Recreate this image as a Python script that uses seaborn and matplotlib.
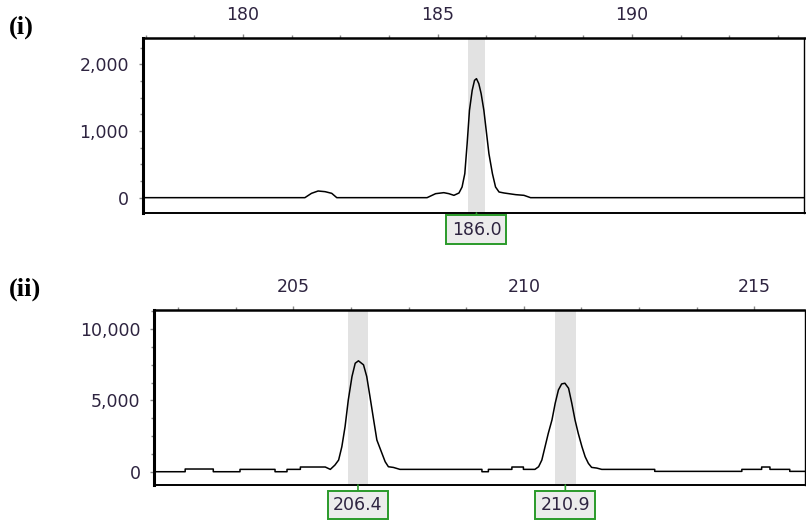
import numpy as np
import pandas as pd
import matplotlib
matplotlib.use("Agg")
import matplotlib.pyplot as plt
from matplotlib.ticker import MultipleLocator, FuncFormatter
import seaborn as sns

# ---------------- data ----------------
# Panel (i): trace (size in bp, signal in RFU)
trace1_size = [177.4, 181.59, 181.76, 181.93, 182.11, 182.28, 182.41,
               184.73, 184.95, 185.16, 185.29, 185.42, 185.55, 185.63, 185.70,
               185.76, 185.82, 185.89, 185.95, 186.00, 186.06, 186.12, 186.19,
               186.26, 186.32, 186.41, 186.49, 186.58, 186.71, 187.01, 187.22,
               187.39, 194.5]
trace1_rfu = [0, 0, 65, 100, 90, 65, 0,
              0, 60, 75, 60, 35, 70, 160, 360,
              810, 1310, 1610, 1760, 1785, 1710, 1560, 1310,
              960, 660, 360, 160, 85, 70, 45, 35,
              0, 0]
calls1 = [186.0]

# Panel (ii)
trace2_size = [201.9, 202.65, 202.65, 203.26, 203.26, 203.84, 203.84, 204.60,
               204.60, 204.86, 204.86, 205.15, 205.15, 205.69,
               205.80, 205.90, 205.98, 206.05, 206.12, 206.19, 206.27, 206.34,
               206.41, 206.52, 206.59, 206.66, 206.74, 206.81, 206.92, 206.99,
               207.06, 207.17, 207.31, 209.09, 209.09, 209.23, 209.23, 209.74,
               209.74, 209.99, 209.99, 210.24,
               210.32, 210.39, 210.46, 210.53, 210.61, 210.68, 210.75, 210.82,
               210.89, 210.97, 211.04, 211.11, 211.18, 211.26, 211.33, 211.40,
               211.47, 211.58, 211.69, 212.84, 212.84, 214.73, 214.73, 215.16,
               215.16, 215.34, 215.34, 215.77, 215.77, 216.2]
trace2_rfu = [0, 0, 190, 190, 0, 0, 165, 165,
              0, 0, 165, 165, 330, 330,
              164, 468, 819, 1755, 3160, 5030, 6670, 7600,
              7770, 7490, 6670, 5270, 3630, 2220, 1290, 700,
              350, 300, 165, 165, 0, 0, 165, 165,
              330, 330, 165, 165,
              351, 819, 1755, 2690, 3630, 4800, 5730, 6150,
              6200, 5850, 4800, 3630, 2690, 1755, 1050, 585,
              304, 257, 164, 164, 25, 25, 165, 165,
              330, 330, 165, 165, 25, 25]
calls2 = [206.4, 210.9]

panel_labels = ["(i)", "(ii)"]

# ---------------- style ----------------
sns.set_style("white")
plt.rcParams["font.family"] = ["DejaVu Sans"]

TXT = "#2e2440"
GREEN = "#2a9a2a"
BAND = "#e2e2e2"
TICK = "#888888"

fig = plt.figure(figsize=(8.06, 5.23), dpi=100)
W, H = 806, 523
ax1 = fig.add_axes([143 / W, 1 - 213 / H, (804.5 - 143) / W, 175 / H])
ax2 = fig.add_axes([154.3 / W, 1 - 485 / H, (804.5 - 154.3) / W, 175 / H])

df1 = pd.DataFrame({"size": trace1_size, "rfu": trace1_rfu})
df2 = pd.DataFrame({"size": trace2_size, "rfu": trace2_rfu})


def style_axes(ax, df, calls, xlim, ylim, ymajor, yminor, box_off):
    for c in calls:
        ax.axvspan(c - 0.225, c + 0.225, color=BAND, lw=0, zorder=0)
    sns.lineplot(data=df, x="size", y="rfu", ax=ax, estimator=None, sort=False,
                 color="black", lw=1.1, zorder=3)
    ax.set_xlim(*xlim)
    ax.set_ylim(*ylim)
    ax.set_xlabel("")
    ax.set_ylabel("")
    ax.xaxis.set_major_locator(MultipleLocator(5))
    ax.xaxis.set_minor_locator(MultipleLocator(1.25))
    ax.yaxis.set_major_locator(MultipleLocator(ymajor))
    ax.yaxis.set_minor_locator(MultipleLocator(yminor))
    ax.yaxis.set_major_formatter(FuncFormatter(lambda v, p: f"{v:,.0f}"))
    ax.xaxis.set_major_formatter(FuncFormatter(lambda v, p: f"{v:.0f}"))
    ax.tick_params(axis="x", which="both", top=True, bottom=False,
                   labeltop=True, labelbottom=False, direction="out",
                   color=TICK, width=1.0)
    ax.tick_params(axis="y", which="both", left=True, right=False,
                   direction="out", color=TICK, width=1.0)
    ax.tick_params(which="major", length=3.0, pad=7, labelsize=12.5,
                   labelcolor=TXT)
    ax.tick_params(which="minor", length=2.0)
    ax.spines["left"].set_linewidth(2.2)
    ax.spines["top"].set_linewidth(1.8)
    ax.spines["bottom"].set_linewidth(1.4)
    ax.spines["right"].set_linewidth(1.0)
    for s in ax.spines.values():
        s.set_color("black")
        s.set_visible(True)
    for c in calls:
        ax.annotate(f"{c:.1f}", xy=(c, 0), xycoords=("data", "axes fraction"),
                    xytext=(0, -box_off), textcoords="offset points",
                    ha="center", va="center", fontsize=12.5, color=TXT,
                    bbox=dict(boxstyle="square,pad=0.3", fc="#ececec",
                              ec=GREEN, lw=1.4),
                    arrowprops=dict(arrowstyle="-", color=GREEN, lw=1.2,
                                    shrinkA=0, shrinkB=0),
                    annotation_clip=False)


style_axes(ax1, df1, calls1, (177.43, 194.43), (-230, 2395), 1000, 250, 11.9)
style_axes(ax2, df2, calls2, (201.98, 216.09), (-930, 11330), 5000, 1250, 14.2)

fig.text(9 / W, 1 - 27 / H, panel_labels[0], family=["Liberation Serif"],
         fontweight="bold", fontsize=19, ha="left", va="center", color="black")
fig.text(9 / W, 1 - 289 / H, panel_labels[1], family=["Liberation Serif"],
         fontweight="bold", fontsize=19, ha="left", va="center", color="black")

fig.savefig("out.png", dpi=100)
